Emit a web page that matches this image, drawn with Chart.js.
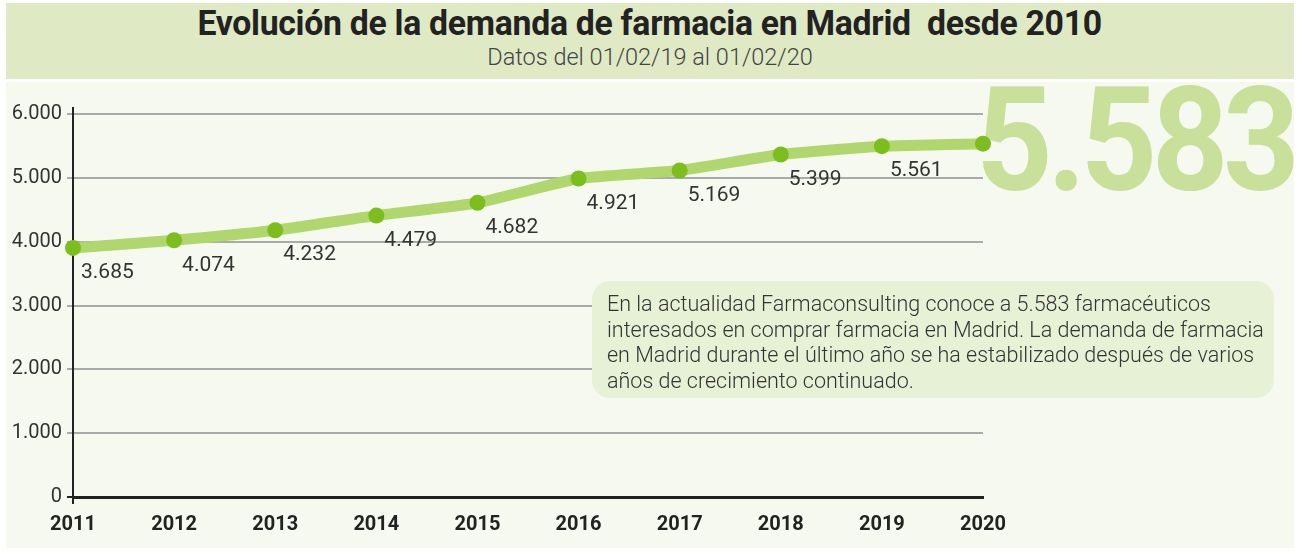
<!DOCTYPE html>
<html lang="es">
<head>
<meta charset="utf-8">
<script src="https://cdn.jsdelivr.net/npm/chart.js@4.4.1/dist/chart.umd.min.js"></script>
<style>
  html, body { margin:0; padding:0; background:#fff; }
  body { width:1300px; height:552px; position:relative; overflow:hidden; font-family:Roboto, "Noto Sans", sans-serif; }
  #cabecera { position:absolute; left:6px; top:3px; width:1288px; height:76px; background:#dfeac5; }
  #titulo { position:absolute; left:0; width:1300px; top:3px; text-align:center; font-weight:700; font-size:35px; color:#222; white-space:nowrap; }
  #titulo span { display:inline-block; transform:scaleX(0.965); letter-spacing:-0.3px; }
  #subtitulo { position:absolute; left:0; width:1300px; top:43px; text-align:center; font-weight:300; font-size:23.5px; color:#444; }
  #fondo { position:absolute; left:6px; top:82px; width:1288px; height:466px; background:#f6f9ef; }
  #total { position:absolute; left:976px; top:69px; font-weight:700; font-size:144px; color:#c8e09a; line-height:1; letter-spacing:-6px; transform:scaleX(0.93); transform-origin:left top; }
  #grafico { position:absolute; left:0; top:0; width:1300px; height:552px; }
  #nota { position:absolute; left:592px; top:281px; width:682px; height:117px; box-sizing:border-box; background:#e7f1d6; border-radius:18px; padding:10px 10px 0 15px; font-weight:300; font-size:21.5px; line-height:25.5px; color:#333; }
</style>
</head>
<body>
<div id="cabecera"></div>
<div id="titulo"><span>Evolución de la demanda de farmacia en Madrid&nbsp; desde 2010</span></div>
<div id="subtitulo">Datos del 01/02/19 al 01/02/20</div>
<div id="fondo"></div>
<div id="total"></div>
<canvas id="grafico" width="1300" height="552"></canvas>
<div id="nota">En la actualidad Farmaconsulting conoce a 5.583 farmacéuticos interesados en comprar farmacia en Madrid. La demanda de farmacia en Madrid durante el último año se ha estabilizado después de varios años de crecimiento continuado.</div>

<script>
// datos
var anios = ['2011', '2012', '2013', '2014', '2015', '2016', '2017', '2018', '2019', '2020'];
// posición de cada punto tal y como está dibujado
var demanda = [3906, 4026, 4183, 4413, 4613, 4994, 5120, 5371, 5502, 5540];
// cifras que se muestran junto a los puntos (2020 va en grande)
var etiquetas = [3685, 4074, 4232, 4479, 4682, 4921, 5169, 5399, 5561, null];
var totalActual = 5583;
var ejeY = [0, 1000, 2000, 3000, 4000, 5000, 6000];

function miles(n) {
  return String(n).replace(/\B(?=(\d{3})+(?!\d))/g, '.');
}

document.getElementById('total').textContent = miles(totalActual);

// etiquetas de los puntos
var etiquetasPlugin = {
  id: 'etiquetasPuntos',
  afterDatasetsDraw(chart) {
    let ctx = chart.ctx;
    let meta = chart.getDatasetMeta(0);
    ctx.save();
    ctx.font = '400 21px Roboto';
    ctx.fillStyle = '#333';
    ctx.textAlign = 'left';
    ctx.textBaseline = 'middle';
    meta.data.forEach(function (p, i) {
      if (etiquetas[i] == null) return;
      ctx.fillText(miles(etiquetas[i]), p.x + 8, p.y + 25);
    });
    ctx.restore();
  }
};

new Chart(document.getElementById('grafico'), {
  type: 'line',
  data: {
    labels: anios,
    datasets: [{
      data: demanda,
      borderColor: '#b0d66e',
      borderWidth: 11,
      borderCapStyle: 'round',
      borderJoinStyle: 'round',
      tension: 0.15,
      pointRadius: 8,
      pointHoverRadius: 8,
      pointBackgroundColor: '#7cbe1e',
      pointBorderWidth: 0,
      clip: false
    }]
  },
  options: {
    responsive: false,
    animation: false,
    events: [],
    layout: { padding: { top: 108, right: 317, bottom: 0, left: 0 } },
    plugins: { legend: { display: false }, tooltip: { enabled: false } },
    scales: {
      x: {
        offset: false,
        grid: {
          drawOnChartArea: false,
          tickLength: 7,
          lineWidth: 2,
          color: function (c) { return c.index === 0 ? '#222' : 'rgba(0,0,0,0)'; }
        },
        border: { display: true, color: '#222', width: 3 },
        ticks: { color: '#222', font: { family: 'Roboto', size: 20, weight: '700' }, padding: 9, maxRotation: 0, autoSkip: false },
        afterFit: function (s) { s.height = 55; }
      },
      y: {
        min: 0,
        max: 6100,
        afterBuildTicks: function (s) { s.ticks = ejeY.map(function (v) { return { value: v }; }); },
        grid: {
          color: '#aaa',
          lineWidth: 2,
          tickLength: 6,
          tickColor: function (c) { return c.tick && c.tick.value === 0 ? '#222' : '#aaa'; }
        },
        border: { display: true, color: '#222', width: 2 },
        ticks: {
          color: '#333',
          font: { family: 'Roboto', size: 20 },
          padding: 5,
          callback: function (v) { return miles(v); }
        },
        afterFit: function (s) { s.width = 73; }
      }
    }
  },
  plugins: [etiquetasPlugin]
});
</script>
</body>
</html>
